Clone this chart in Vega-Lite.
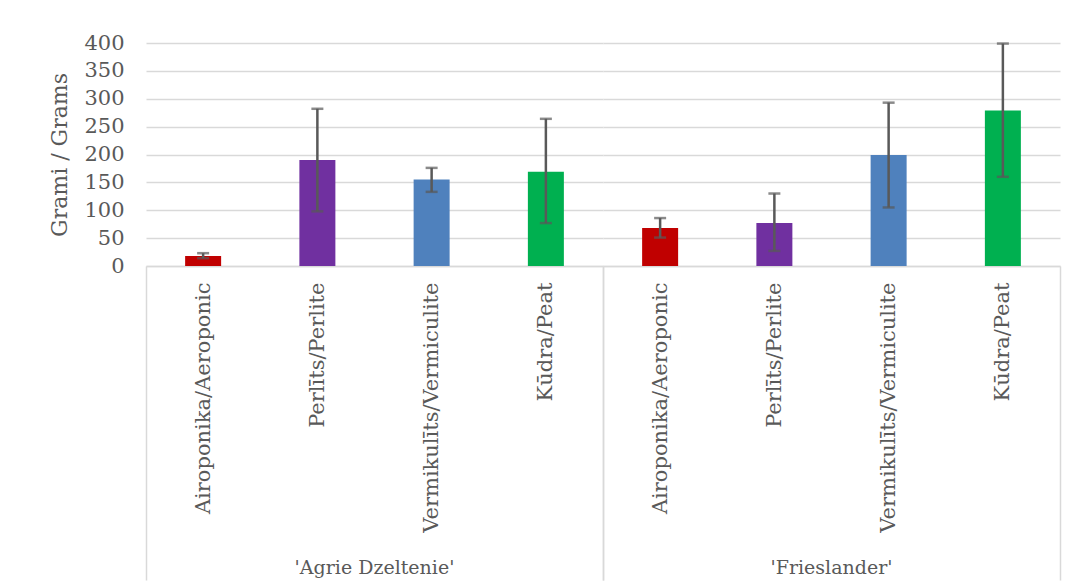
{
  "$schema": "https://vega.github.io/schema/vega-lite/v6.json",
  "background": "white",
  "padding": {"left": 48, "top": 32, "right": 14, "bottom": 0},
  "data": {
    "values": [
      {"variety": "'Agrie Dzeltenie'", "substrate": "Airoponika/Aeroponic", "mean": 18, "lo": 14, "hi": 23},
      {"variety": "'Agrie Dzeltenie'", "substrate": "Perlīts/Perlite", "mean": 190, "lo": 98, "hi": 282},
      {"variety": "'Agrie Dzeltenie'", "substrate": "Vermikulīts/Vermiculite", "mean": 155, "lo": 133, "hi": 176},
      {"variety": "'Agrie Dzeltenie'", "substrate": "Kūdra/Peat", "mean": 169, "lo": 77, "hi": 264},
      {"variety": "'Frieslander'", "substrate": "Airoponika/Aeroponic", "mean": 68, "lo": 51, "hi": 86},
      {"variety": "'Frieslander'", "substrate": "Perlīts/Perlite", "mean": 77, "lo": 27, "hi": 130},
      {"variety": "'Frieslander'", "substrate": "Vermikulīts/Vermiculite", "mean": 199, "lo": 105, "hi": 293},
      {"variety": "'Frieslander'", "substrate": "Kūdra/Peat", "mean": 279, "lo": 160, "hi": 399}
    ]
  },
  "facet": {
    "column": {
      "field": "variety",
      "type": "nominal",
      "sort": ["'Agrie Dzeltenie'", "'Frieslander'"],
      "title": null,
      "header": {
        "labelOrient": "bottom",
        "labelPadding": -22,
        "labelFont": "DejaVu Serif",
        "labelFontSize": 19,
        "labelColor": "#595959"
      }
    }
  },
  "spacing": 0,
  "spec": {
    "width": 457,
    "height": 223,
    "encoding": {
      "x": {
        "field": "substrate",
        "type": "nominal",
        "sort": ["Airoponika/Aeroponic", "Perlīts/Perlite", "Vermikulīts/Vermiculite", "Kūdra/Peat"],
        "scale": {"paddingInner": 0, "paddingOuter": 0},
        "axis": {
          "title": null,
          "labelAngle": -90,
          "labelFont": "DejaVu Serif",
          "labelFontSize": 21,
          "labelColor": "#595959",
          "labelPadding": -298,
          "labelLimit": 0,
          "domainColor": "#d9d9d9",
          "domainWidth": 1.5,
          "tickBand": "extent",
          "tickSize": 314,
          "tickWidth": 1.5,
          "tickColor": {"condition": {"test": "datum.index < 0 || datum.index == 1", "value": "#d9d9d9"}, "value": "transparent"}
        }
      }
    },
    "layer": [
      {
        "mark": {"type": "bar", "width": 36},
        "encoding": {
          "y": {
            "field": "mean",
            "type": "quantitative",
            "title": "Grami / Grams",
            "scale": {"domain": [0, 400]},
            "axis": {
              "values": [0, 50, 100, 150, 200, 250, 300, 350, 400],
              "labelOverlap": false
            }
          },
          "color": {
            "field": "substrate",
            "type": "nominal",
            "scale": {
              "domain": ["Airoponika/Aeroponic", "Perlīts/Perlite", "Vermikulīts/Vermiculite", "Kūdra/Peat"],
              "range": ["#C00000", "#7030A0", "#4F81BD", "#00B050"]
            },
            "legend": null
          }
        }
      },
      {
        "mark": {"type": "errorbar", "ticks": true, "size": 12, "thickness": 2.5, "color": "#595959"},
        "encoding": {
          "y": {
            "field": "lo",
            "type": "quantitative",
            "title": "Grami / Grams",
            "axis": {
              "values": [0, 50, 100, 150, 200, 250, 300, 350, 400],
              "labelOverlap": false
            }
          },
          "y2": {"field": "hi"}
        }
      }
    ]
  },
  "config": {
    "view": {"stroke": null},
    "axisY": {
      "titleFont": "DejaVu Serif",
      "titleFontSize": 22,
      "titleFontWeight": "normal",
      "titleColor": "#595959",
      "titlePadding": 12,
      "labelFont": "DejaVu Serif",
      "labelFontSize": 21,
      "labelColor": "#595959",
      "labelPadding": 22,
      "labelOverlap": false,
      "ticks": false,
      "domain": false,
      "gridColor": "#d9d9d9",
      "gridWidth": 1.5
    }
  }
}
